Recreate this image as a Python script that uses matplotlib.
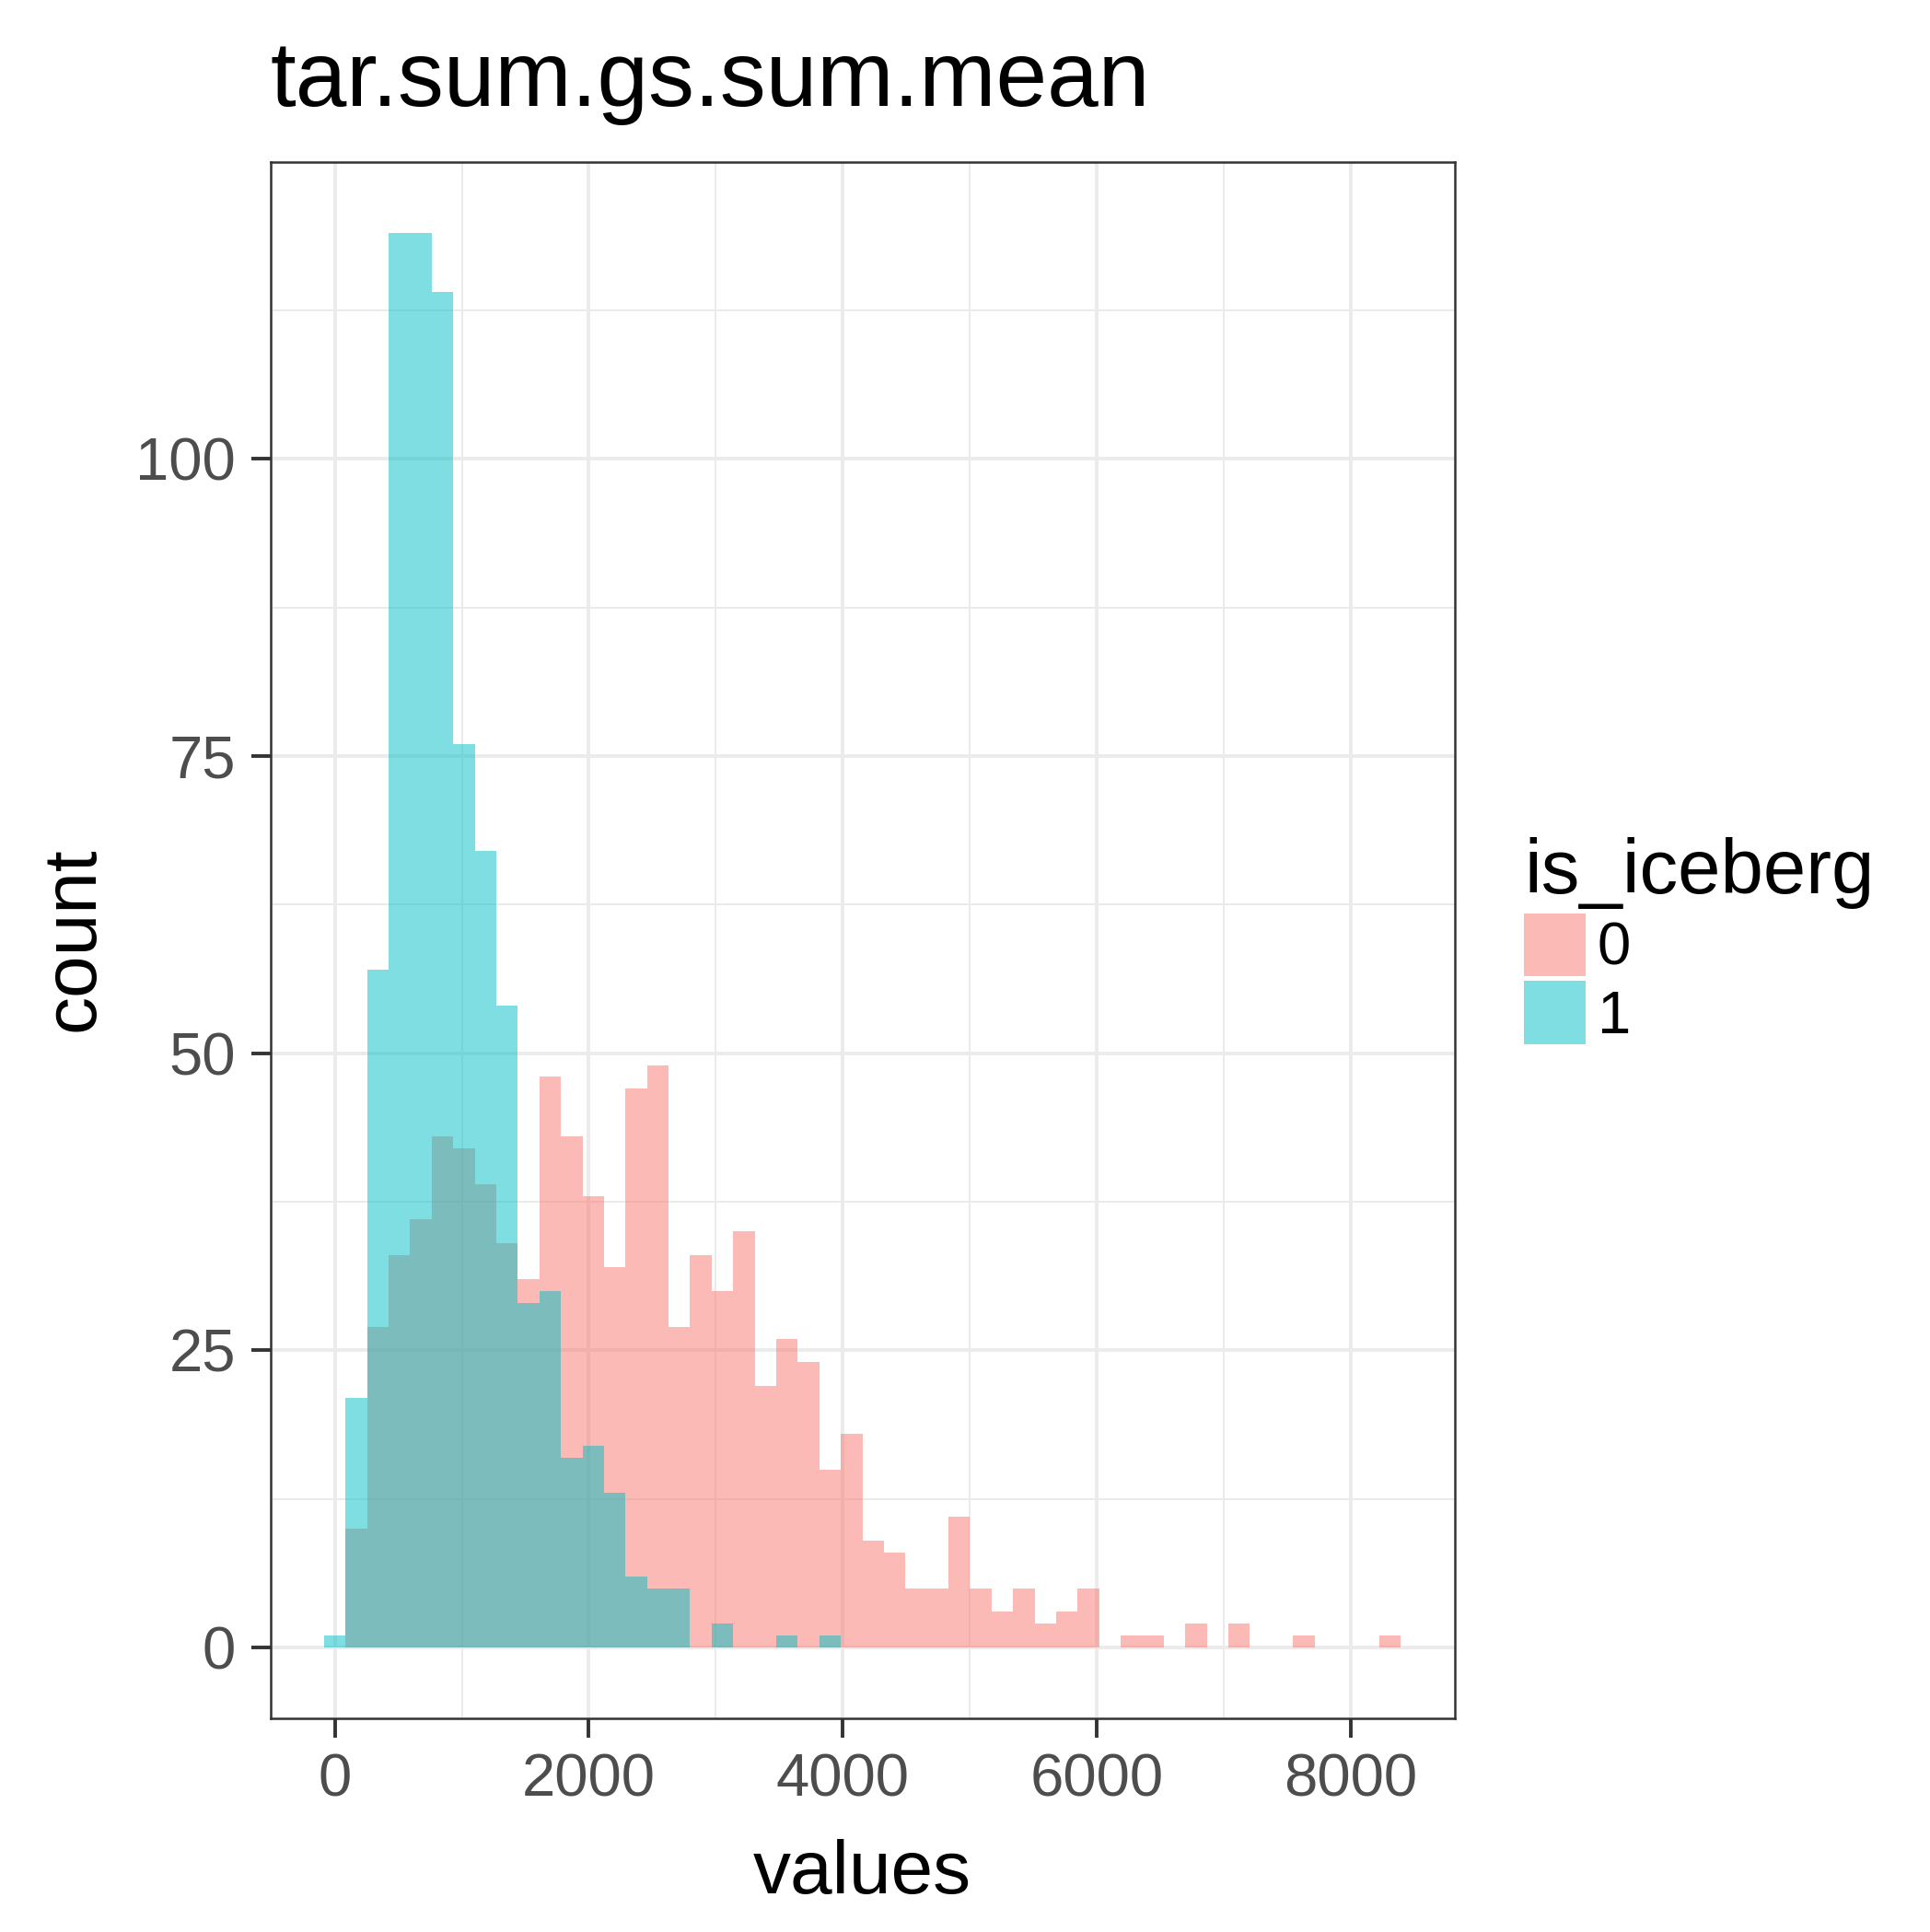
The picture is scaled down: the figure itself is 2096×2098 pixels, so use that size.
import numpy as np
import matplotlib
matplotlib.use("Agg")
import matplotlib.pyplot as plt

plt.rcParams['font.family'] = ['Liberation Sans', 'DejaVu Sans']

# histogram of tar.sum.gs.sum.mean, 50 bins centred on multiples of the bin width
bin_width = 169.6
n_bins = 50
counts_0 = [0, 10, 27, 33, 36, 43, 42, 39, 34, 31,
            48, 43, 38, 32, 47, 49, 27, 33, 30, 35,
            22, 26, 24, 15, 18, 9, 8, 5, 5, 11,
            5, 3, 5, 2, 3, 5, 0, 1, 1, 0,
            2, 0, 2, 0, 0, 1, 0, 0, 0, 1]
counts_1 = [1, 21, 57, 119, 119, 114, 76, 67, 54, 29,
            30, 16, 17, 13, 6, 5, 5, 0, 2, 0,
            0, 1, 0, 1, 0, 0, 0, 0, 0, 0,
            0, 0, 0, 0, 0, 0, 0, 0, 0, 0,
            0, 0, 0, 0, 0, 0, 0, 0, 0, 0]
groups = ["0", "1"]
colors = ["#F8766D", "#00BFC4"]
x_ticks = [0, 2000, 4000, 6000, 8000]
y_ticks = [0, 25, 50, 75, 100]

centers = np.arange(n_bins) * bin_width

fig = plt.figure(figsize=(10.48, 10.49), dpi=200)
ax = fig.add_axes([0.14003, 0.11058, 0.61355, 0.80553])

for counts, col, lab in zip([counts_0, counts_1], colors, groups):
    ax.bar(centers, counts, width=bin_width, color=col, alpha=0.5,
           linewidth=0, label=lab, zorder=2)

# ggplot-like 5% expansion
lo = centers[0] - bin_width / 2
hi = centers[-1] + bin_width / 2
ax.set_xlim(lo - 0.05 * (hi - lo), hi + 0.05 * (hi - lo))
ymax = max(max(counts_0), max(counts_1))
ax.set_ylim(-0.05 * ymax, 1.05 * ymax)

ax.set_xticks(x_ticks)
ax.set_yticks(y_ticks)
ax.set_xticks([1000, 3000, 5000, 7000], minor=True)
ax.set_yticks([12.5, 37.5, 62.5, 87.5, 112.5], minor=True)
ax.grid(which='major', color='#EBEBEB', linewidth=1.4, zorder=0)
ax.grid(which='minor', color='#EBEBEB', linewidth=0.7, zorder=0)
ax.set_axisbelow(True)

ax.tick_params(which='major', length=7.5, width=1.4, color='#333333',
               labelcolor='#4D4D4D', labelsize=23.5, pad=6)
ax.tick_params(which='minor', length=0)
for sp in ax.spines.values():
    sp.set_color('#333333')
    sp.set_linewidth(0.9)

ax.set_title("tar.sum.gs.sum.mean", loc='left', fontsize=36, pad=22)
fig.text(936.5 / 2096, 42 / 2098, "values", ha='center', va='baseline', fontsize=29.5)
fig.text(80 / 2096, 0.514, "count", ha='center', va='center', rotation=90, fontsize=29.5)

leg = ax.legend(title="is_iceberg", loc='upper left', bbox_to_anchor=(1655 / 2096, 1 - 909 / 2098),
                bbox_transform=fig.transFigure, frameon=False, fontsize=23.5,
                title_fontsize=30, handlelength=1.02, handleheight=1.24,
                handletextpad=0.2, labelspacing=0.07, borderpad=0, borderaxespad=0,
                alignment='left')

fig.savefig("out.png", dpi=200)
